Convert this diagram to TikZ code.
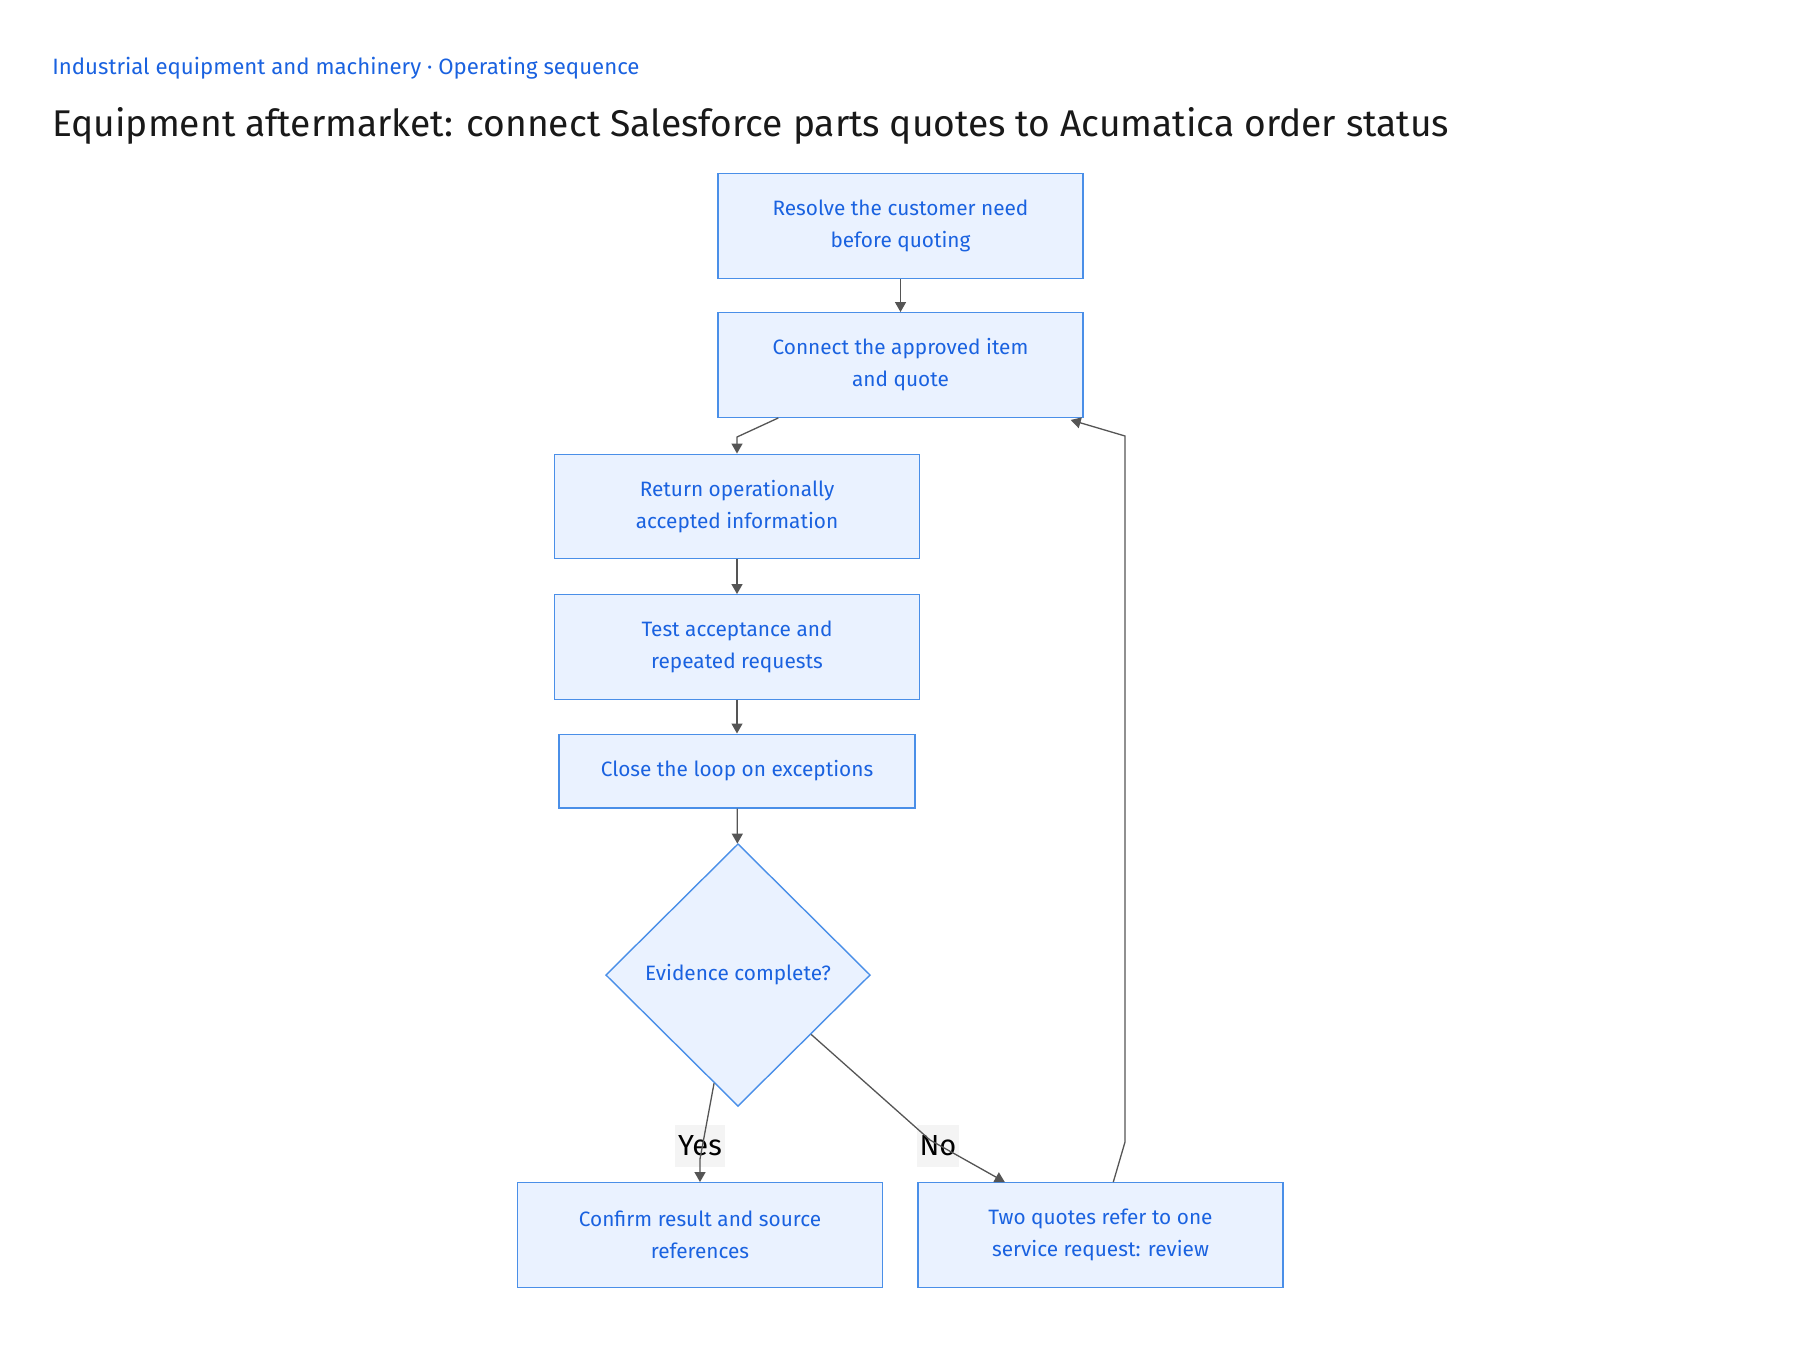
\documentclass[tikz,border=0pt]{standalone}
\usepackage{fontspec}
\setmainfont{Fira Sans}
\usetikzlibrary{shapes.geometric,arrows.meta,calc,positioning}

\definecolor{stepblue}{HTML}{1A62E0}
\definecolor{stepline}{HTML}{4A8FE8}
\definecolor{stepfill}{HTML}{EAF2FF}
\definecolor{wire}{HTML}{555555}
\definecolor{tagbg}{HTML}{F4F4F4}

\tikzset{
  stepbox/.style={draw=stepline, fill=stepfill, text=stepblue, line width=0.7pt,
    minimum width=182.5pt, minimum height=52.25pt, inner sep=0pt, align=center,
    font=\fontsize{10.4}{16}\selectfont},
  choice/.style={diamond, draw=stepline, fill=stepfill, text=stepblue, line width=0.7pt,
    minimum width=132.3pt, minimum height=131.3pt, inner sep=0pt,
    font=\fontsize{10.4}{16}\selectfont},
  flow/.style={draw=wire, line width=0.65pt, -{Triangle[length=5pt,width=5.5pt]}},
  tag/.style={fill=tagbg, text=black, inner xsep=1.5pt, inner ysep=5.5pt, font=\fontsize{14.5}{14.5}\selectfont}
}

\begin{document}
\begin{tikzpicture}[x=0.5pt, y=-0.5pt]
\fill[white] (0,0) rectangle (1800,1350);
\useasboundingbox (0,0) rectangle (1800,1350);

\node[anchor=base west, inner sep=0pt, text=stepblue, font=\fontsize{11.1}{12}\selectfont] (kicker) at (52,74)
  {Industrial equipment and machinery · Operating sequence};
\node[anchor=base west, inner sep=0pt, text=black!90, font=\fontsize{18.6}{20}\selectfont] (title) at (52,136)
  {Equipment aftermarket: connect Salesforce parts quotes to Acumatica order status};

% steps
\node[stepbox] (need) at (900.5,226) {Resolve the customer need\\before quoting};
\node[stepbox] (quote) at (900.5,365) {Connect the approved item\\and quote};
\node[stepbox] (accept) at (737,506.5) {Return operationally\\accepted information};
\node[stepbox] (repeat) at (737,647) {Test acceptance and\\repeated requests};
\node[stepbox, minimum width=178pt, minimum height=36.8pt] (loop) at (737,771) {Close the loop on exceptions};
\node[choice] (check) at (738,975) {Evidence complete?};
\node[stepbox] (confirm) at (700,1235) {Confirm result and source\\references};
\node[stepbox] (review) at (1100.5,1235) {Two quotes refer to one\\service request: review};

\node[tag] (yes) at (700,1146) {Yes};
\node[tag] (no) at (938,1146) {No};

\coordinate (bend1) at (737,437);
\coordinate (bend2) at (700,1159);
\coordinate (bend3) at (930,1140);
\coordinate (back1) at (1125,1142);
\coordinate (back2) at (1125,436);

\draw[flow] (need) -- (quote);
\draw[flow] ($(quote.south west)+(61,0)$) -- (bend1) -- (accept.north);
\draw[flow] (accept) -- (repeat);
\draw[flow] (repeat) -- (loop);
\draw[flow] (loop) -- (check);
\draw[flow] ($(check.south)!0.18!(check.west)$) -- (bend2) -- (confirm.north);
\draw[flow] ($(check.south)!0.55!(check.east)$) -- (bend3) -- ($(review.north west)+(87.5,0)$);
\draw[flow] ($(review.north west)+(196,0)$) -- (back1) -- (back2) -- ($(quote.south east)+(-13,2)$);
\end{tikzpicture}
\end{document}
